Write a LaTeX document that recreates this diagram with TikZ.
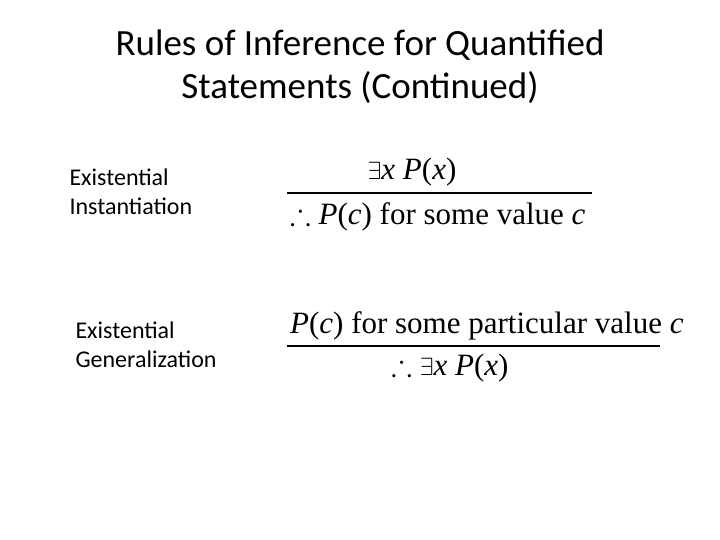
\documentclass[tikz,border=0pt]{standalone}
\usepackage{amssymb}
\usepackage{fontspec}
\setmainfont{Liberation Serif}
\newfontfamily\calfnt{Carlito}
\begin{document}
\begin{tikzpicture}[x=1pt,y=-1pt,
  ttl/.style={font=\calfnt\fontsize{37}{43}\selectfont,align=center},
  lbl/.style={font=\calfnt\fontsize{24}{29}\selectfont,align=left,anchor=west},
  fml/.style={font=\fontsize{31}{34}\selectfont,inner sep=0pt},
  rule/.style={line width=1.2pt}]
\useasboundingbox (0,0) rectangle (720,540);
\node[ttl] (t) at (360,67) {Rules of Inference for Quantified\\Statements (Continued)};
\node[lbl] (l1) at (66,192) {Existential\\Instantiation};
\node[lbl] (l2) at (72,345) {Existential\\Generalization};
\node[fml] (a1) at (412,172) {$\exists$\textit{x} \textit{P}(\textit{x})};
\coordinate (r1a) at (287,193); \coordinate (r1b) at (592,193);
\draw[rule] (r1a) -- (r1b);
\node[fml,anchor=west] (b1) at (290,217) {$\therefore$ \textit{P}(\textit{c}) for some value \textit{c}};
\node[fml,anchor=west] (a2) at (290,326) {\textit{P}(\textit{c}) for some particular value \textit{c}};
\coordinate (r2a) at (287,346); \coordinate (r2b) at (660,346);
\draw[rule] (r2a) -- (r2b);
\node[fml] (b2) at (450,368) {$\therefore$ $\exists$\textit{x} \textit{P}(\textit{x})};
\end{tikzpicture}
\end{document}
